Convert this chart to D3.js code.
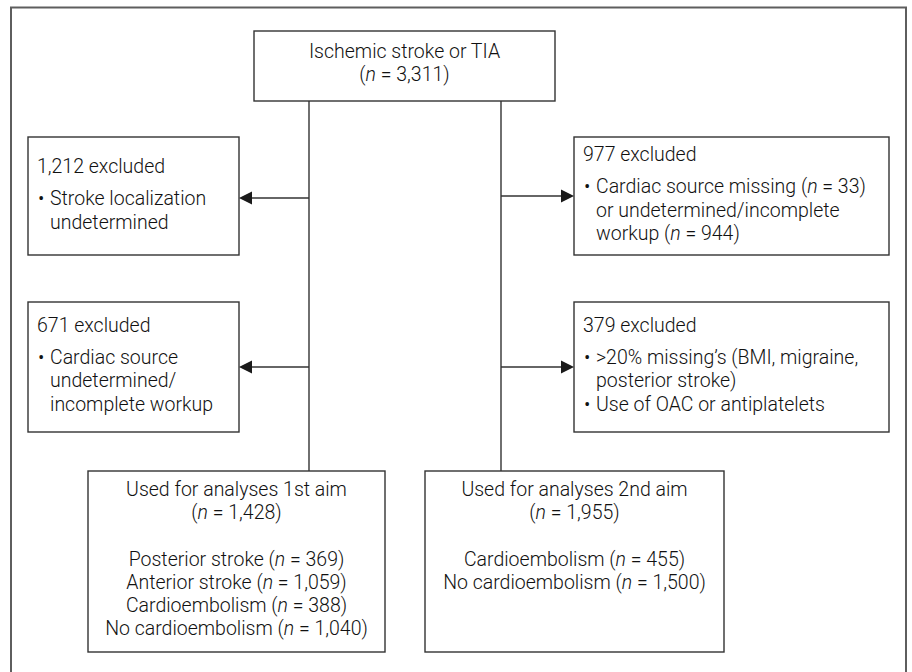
<!DOCTYPE html>
<html>
<head>
<meta charset="utf-8">
<script src="https://cdn.jsdelivr.net/npm/d3@7"></script>
<style>
  body { margin: 0; background: #fff; }
  svg text { font-family: Roboto, "Open Sans", sans-serif; font-size: 19.5px; font-weight: 300; fill: #111; }
</style>
</head>
<body>
<div id="chart"></div>
<script>
// flowchart content
var topLines = ["Ischemic stroke or TIA", "(n = 3,311)"];

var exclLeft1 = ["1,212 excluded"];
var exclLeft1Bullets = [["Stroke localization", "undetermined"]];

var exclLeft2 = ["671 excluded"];
var exclLeft2Bullets = [["Cardiac source", "undetermined/", "incomplete workup"]];

var exclRight1 = ["977 excluded"];
var exclRight1Bullets = [["Cardiac source missing (n = 33)", "or undetermined/incomplete", "workup (n = 944)"]];

var exclRight2 = ["379 excluded"];
var exclRight2Bullets = [["\u003e20% missing\u2019s (BMI, migraine,", "posterior stroke)"], ["Use of OAC or antiplatelets"]];

var aim1Lines = ["Used for analyses 1st aim", "(n = 1,428)", "", "Posterior stroke (n = 369)", "Anterior stroke (n = 1,059)", "Cardioembolism (n = 388)", "No cardioembolism (n = 1,040)"];
var aim2Lines = ["Used for analyses 2nd aim", "(n = 1,955)", "", "Cardioembolism (n = 455)", "No cardioembolism (n = 1,500)"];

var W = 912, H = 672;
var lineH = 23.6;

var svg = d3.select("#chart")
  .append("svg")
  .attr("width", W)
  .attr("height", H);

// frame (bottom edge runs off the picture)
svg.append("rect")
  .attr("x", 11).attr("y", 7.5)
  .attr("width", 895).attr("height", 700)
  .attr("fill", "none")
  .attr("stroke", "#5e5e5e")
  .attr("stroke-width", 2);

// layout of the boxes
var boxes = {
  top:   {x0: 254, y0: 31,  x1: 555, y1: 101},
  l1:    {x0: 28,  y0: 137, x1: 239, y1: 255},
  l2:    {x0: 28,  y0: 302, x1: 239, y1: 432},
  r1:    {x0: 574, y0: 137, x1: 889, y1: 255},
  r2:    {x0: 574, y0: 302, x1: 889, y1: 432},
  aim1:  {x0: 88,  y0: 471, x1: 385, y1: 652},
  aim2:  {x0: 425, y0: 471, x1: 724, y1: 652}
};
var stemX = {left: 309, right: 501};

var lineColor = "#333";

// draw a line of text, making the "n" in "n =" italic
function addLine(sel, str, x, y, anchor) {
  var t = sel.append("text")
    .attr("x", x).attr("y", y)
    .attr("text-anchor", anchor || "start");
  var parts = str.split(/(\bn(?= =))/);
  parts.forEach(function(p) {
    if (p === "") return;
    var ts = t.append("tspan").text(p);
    if (p === "n") ts.style("font-style", "italic");
  });
  return t;
}

function drawBox(b) {
  svg.append("rect")
    .attr("x", b.x0).attr("y", b.y0)
    .attr("width", b.x1 - b.x0).attr("height", b.y1 - b.y0)
    .attr("fill", "#fff")
    .attr("stroke", lineColor)
    .attr("stroke-width", 1.4);
}

// vertical stems
[stemX.left, stemX.right].forEach(function(x) {
  svg.append("line")
    .attr("x1", x).attr("x2", x)
    .attr("y1", boxes.top.y1).attr("y2", boxes.aim1.y0)
    .attr("stroke", lineColor)
    .attr("stroke-width", 1.4);
});

Object.keys(boxes).forEach(function(k) { drawBox(boxes[k]); });

// arrows from stems to exclusion boxes
var arrows = [
  {from: stemX.left,  to: boxes.l1.x1, y: 198},
  {from: stemX.left,  to: boxes.l2.x1, y: 367},
  {from: stemX.right, to: boxes.r1.x0, y: 196},
  {from: stemX.right, to: boxes.r2.x0, y: 367}
];
arrows.forEach(function(a) {
  var dir = a.to > a.from ? 1 : -1;
  var headLen = 13, headHalf = 6.5;
  svg.append("line")
    .attr("x1", a.from).attr("x2", a.to - dir * headLen)
    .attr("y1", a.y).attr("y2", a.y)
    .attr("stroke", lineColor)
    .attr("stroke-width", 1.4);
  svg.append("path")
    .attr("d", d3.line()([
      [a.to, a.y],
      [a.to - dir * headLen, a.y - headHalf],
      [a.to - dir * headLen, a.y + headHalf]
    ]) + "Z")
    .attr("fill", "#1a1a1a");
});

// top box text
var topCx = (boxes.top.x0 + boxes.top.x1) / 2;
topLines.forEach(function(s, i) {
  addLine(svg, s, topCx, 58 + i * 23, "middle");
});

// exclusion boxes: heading, then bulleted items
function exclusionText(b, heading, bullets, firstY, gap) {
  var x = b.x0 + 9;
  addLine(svg, heading[0], x, firstY);
  var y = firstY + gap;
  bullets.forEach(function(item) {
    item.forEach(function(s, j) {
      if (j === 0) {
        svg.append("text").attr("x", x + 1).attr("y", y).text("\u2022");
      }
      addLine(svg, s, x + 13, y);
      y += lineH;
    });
  });
}
exclusionText(boxes.l1, exclLeft1, exclLeft1Bullets, 173, 32);
exclusionText(boxes.l2, exclLeft2, exclLeft2Bullets, 332, 31.5);
exclusionText(boxes.r1, exclRight1, exclRight1Bullets, 161, 32);
exclusionText(boxes.r2, exclRight2, exclRight2Bullets, 332, 31.5);

// final boxes
function centeredText(b, lines, firstY) {
  var cx = (b.x0 + b.x1) / 2;
  lines.forEach(function(s, i) {
    if (s === "") return;
    addLine(svg, s, cx, firstY + i * 23.2, "middle");
  });
}
centeredText(boxes.aim1, aim1Lines, 496);
centeredText(boxes.aim2, aim2Lines, 496);
</script>
</body>
</html>
